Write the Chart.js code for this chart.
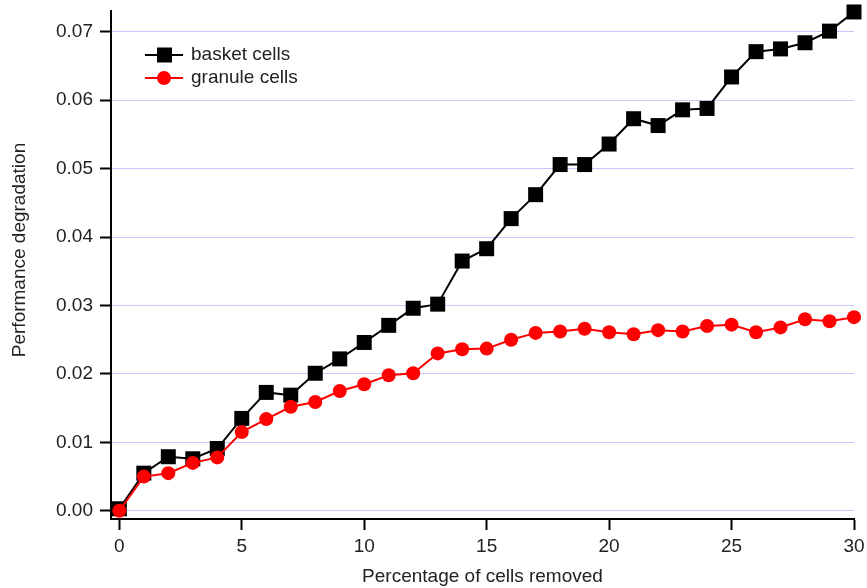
<!DOCTYPE html>
<html>
<head>
<meta charset="utf-8">
<script src="https://cdn.jsdelivr.net/npm/chart.js@4/dist/chart.umd.min.js"></script>
<style>
  body { margin: 0; background: #fff; }
</style>
</head>
<body>
<canvas id="grafica" width="867" height="588"></canvas>
<script>
// percentage of cells removed
let porcentaje = [0, 1, 2, 3, 4, 5, 6, 7, 8, 9, 10, 11, 12, 13, 14, 15, 16, 17, 18, 19, 20, 21, 22, 23, 24, 25, 26, 27, 28, 29, 30];
let basket = [0.0003, 0.0055, 0.0079, 0.0076, 0.0091, 0.0135, 0.0173, 0.0169, 0.0201, 0.0222, 0.0246,
  0.0271, 0.0296, 0.0302, 0.0365, 0.0383, 0.0427, 0.0462, 0.0506, 0.0506, 0.0536,
  0.0573, 0.0563, 0.0586, 0.0588, 0.0634, 0.0671, 0.0675, 0.0684, 0.0701, 0.0729];
let granule = [0.0000, 0.0050, 0.0055, 0.0070, 0.0078, 0.0115, 0.0134, 0.0152, 0.0159, 0.0175, 0.0185,
  0.0198, 0.0201, 0.0230, 0.0236, 0.0237, 0.0250, 0.0260, 0.0262, 0.0266, 0.0261,
  0.0258, 0.0264, 0.0262, 0.0270, 0.0272, 0.0261, 0.0268, 0.0280, 0.0277, 0.0283];
let ticksX = [0, 5, 10, 15, 20, 25, 30];
let ticksY = [0, 0.01, 0.02, 0.03, 0.04, 0.05, 0.06, 0.07];
let nombres = ['basket cells', 'granule cells'];
let colores = ['#000000', '#ff0000'];

let fuente = 'Arial, "Liberation Sans", sans-serif';

function puntos(valores) {
  return porcentaje.map((p, i) => ({ x: p, y: valores[i] }));
}

// legend and y title drawn by hand (they sit in custom spots)
let extras = {
  id: 'extras',
  afterDraw(chart) {
    let ctx = chart.ctx;
    ctx.save();
    ctx.font = '19px ' + fuente;
    ctx.textBaseline = 'middle';
    let filas = [55, 78];
    for (let i = 0; i < 2; i++) {
      let y = filas[i];
      ctx.strokeStyle = colores[i];
      ctx.lineWidth = 2;
      ctx.beginPath();
      ctx.moveTo(145, y);
      ctx.lineTo(183, y);
      ctx.stroke();
      ctx.fillStyle = colores[i];
      ctx.beginPath();
      if (i == 0) {
        ctx.rect(157, y - 7.5, 15, 15);
      } else {
        ctx.arc(164, y, 7, 0, Math.PI * 2);
      }
      ctx.fill();
      ctx.fillStyle = '#222';
      ctx.textAlign = 'left';
      ctx.fillText(nombres[i], 191, y);
    }
    // y axis title
    ctx.translate(20, 250);
    ctx.rotate(-Math.PI / 2);
    ctx.textAlign = 'center';
    ctx.fillStyle = '#222';
    ctx.fillText('Performance degradation', 0, 0);
    ctx.restore();
  }
};

let ctx = document.getElementById('grafica').getContext('2d');
let chart = new Chart(ctx, {
  type: 'line',
  data: {
    datasets: [{
      label: nombres[0],
      data: puntos(basket),
      borderColor: colores[0],
      backgroundColor: colores[0],
      borderWidth: 2,
      pointStyle: 'rect',
      pointRadius: 10.6,
      pointBorderWidth: 0,
      tension: 0,
      clip: false,
      order: 1
    }, {
      label: nombres[1],
      data: puntos(granule),
      borderColor: colores[1],
      backgroundColor: colores[1],
      borderWidth: 2,
      pointStyle: 'circle',
      pointRadius: 7,
      pointBorderWidth: 0,
      tension: 0,
      clip: false,
      order: 0
    }]
  },
  options: {
    responsive: false,
    animation: false,
    layout: {
      padding: { left: 0, right: 13, top: 10, bottom: 0 }
    },
    plugins: {
      legend: { display: false },
      tooltip: { enabled: false }
    },
    scales: {
      x: {
        type: 'linear',
        min: -0.34,
        max: 30,
        afterFit: s => { s.height = 69; s.paddingLeft = 0; s.paddingRight = 0; },
        afterBuildTicks: s => { s.ticks = ticksX.map(v => ({ value: v })); },
        border: { color: '#000', width: 2 },
        grid: {
          drawOnChartArea: false,
          drawTicks: true,
          tickLength: 11,
          tickColor: '#000',
          tickWidth: 2
        },
        ticks: {
          color: '#222',
          padding: 5,
          maxRotation: 0,
          font: { size: 19, family: fuente }
        },
        title: {
          display: true,
          text: 'Percentage of cells removed',
          color: '#222',
          padding: { top: 0, bottom: 0 },
          font: { size: 19, family: fuente }
        }
      },
      y: {
        type: 'linear',
        min: -0.0012,
        max: 0.0731,
        afterFit: s => { s.width = 111; s.paddingTop = 0; s.paddingBottom = 0; },
        afterBuildTicks: s => { s.ticks = ticksY.map(v => ({ value: v })); },
        border: { color: '#000', width: 2 },
        grid: {
          color: '#c8c8ff',
          lineWidth: 1,
          borderDash: [1, 2],
          tickLength: 11,
          tickColor: '#000',
          tickWidth: 2,
          tickBorderDash: []
        },
        ticks: {
          color: '#222',
          padding: 7,
          font: { size: 19, family: fuente },
          callback: v => v.toFixed(2)
        }
      }
    }
  },
  plugins: [extras]
});
</script>
</body>
</html>
